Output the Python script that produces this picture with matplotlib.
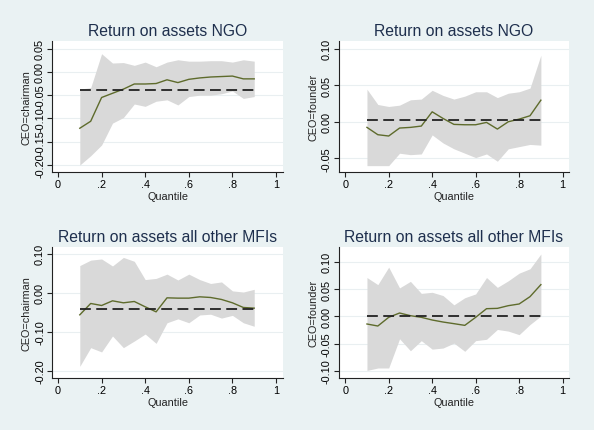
import matplotlib
matplotlib.use("Agg")
import matplotlib.pyplot as plt

W, H = 594, 431

quantiles = [0.1, 0.15, 0.2, 0.25, 0.3, 0.35, 0.4, 0.45, 0.5,
             0.55, 0.6, 0.65, 0.7, 0.75, 0.8, 0.85, 0.9]
xtick_vals = [0, 0.2, 0.4, 0.6, 0.8, 1]
xtick_labels = ["0", ".2", ".4", ".6", ".8", "1"]

# NGO, CEO=chairman
ngo_chair = [-0.121, -0.106, -0.055, -0.046, -0.037, -0.026, -0.026, -0.025, -0.017,
             -0.023, -0.016, -0.013, -0.011, -0.010, -0.009, -0.015, -0.015]
ngo_chair_hi = [-0.037, -0.034, 0.039, 0.019, 0.020, 0.014, 0.021, 0.011, 0.021,
                0.026, 0.023, 0.023, 0.024, 0.024, 0.021, 0.026, 0.023]
ngo_chair_lo = [-0.200, -0.180, -0.157, -0.110, -0.098, -0.069, -0.074, -0.063, -0.060,
                -0.071, -0.053, -0.050, -0.050, -0.047, -0.041, -0.057, -0.053]
ngo_chair_ols = -0.0386

# NGO, CEO=founder
ngo_found = [-0.0077, -0.0177, -0.0195, -0.0086, -0.0077, -0.0059, 0.0136, 0.0045, -0.0036,
             -0.0041, -0.0041, -0.0009, -0.010, 0.000, 0.0036, 0.0082, 0.0295]
ngo_found_hi = [0.0445, 0.0236, 0.0209, 0.0227, 0.030, 0.031, 0.043, 0.036, 0.031,
                0.035, 0.041, 0.041, 0.033, 0.039, 0.041, 0.046, 0.091]
ngo_found_lo = [-0.060, -0.060, -0.060, -0.043, -0.045, -0.044, -0.018, -0.029, -0.037,
                -0.043, -0.049, -0.044, -0.054, -0.037, -0.034, -0.031, -0.032]
ngo_found_ols = 0.0018

# all other MFIs, CEO=chairman
oth_chair = [-0.0566, -0.0274, -0.0326, -0.0206, -0.0257, -0.0223, -0.036, -0.0489, -0.0129,
             -0.0137, -0.0137, -0.0103, -0.012, -0.0171, -0.0257, -0.0377, -0.0394]
oth_chair_hi = [0.070, 0.084, 0.087, 0.069, 0.091, 0.081, 0.034, 0.037, 0.048,
                0.033, 0.048, 0.034, 0.024, 0.028, 0.005, 0.002, 0.009]
oth_chair_lo = [-0.189, -0.141, -0.152, -0.111, -0.141, -0.124, -0.106, -0.130, -0.077,
                -0.067, -0.077, -0.057, -0.055, -0.065, -0.058, -0.077, -0.086]
oth_chair_ols = -0.0411

# all other MFIs, CEO=founder
oth_found = [-0.014, -0.0177, -0.0018, 0.0061, 0.0012, -0.0018, -0.0067, -0.0104, -0.0134,
             -0.0165, -0.0018, 0.014, 0.0146, 0.0195, 0.0226, 0.036, 0.058]
oth_found_hi = [0.071, 0.058, 0.090, 0.052, 0.064, 0.042, 0.044, 0.038, 0.021,
                0.034, 0.041, 0.071, 0.053, 0.065, 0.079, 0.087, 0.114]
oth_found_lo = [-0.099, -0.0945, -0.0945, -0.041, -0.063, -0.0445, -0.060, -0.058, -0.049,
                -0.064, -0.0445, -0.042, -0.024, -0.027, -0.0335, -0.015, 0.0006]
oth_found_ols = 0.0006

titles = ["Return on assets NGO", "Return on assets NGO",
          "Return on assets all other MFIs", "Return on assets all other MFIs"]
ylabels = ["CEO=chairman", "CEO=founder", "CEO=chairman", "CEO=founder"]

BG = "#eaf2f3"
TITLE_C = "#1e2f4d"
LINE_C = "#5e6b2c"
BAND_C = "#d9d9d9"

plt.rcParams["font.family"] = ["Liberation Sans", "DejaVu Sans"]

fig = plt.figure(figsize=(W / 100, H / 100), dpi=100, facecolor=BG)


def add_panel(left, right, top, bottom, xlim, ylim, yticks, yticklabels,
              est, hi, lo, ols, title, ylabel):
    ax = fig.add_axes([left / W, 1 - bottom / H, (right - left) / W, (bottom - top) / H])
    ax.set_facecolor("white")
    ax.fill_between(quantiles, lo, hi, color=BAND_C, linewidth=0)
    ax.plot(quantiles, est, color=LINE_C, linewidth=1.0)
    ax.plot([quantiles[0], quantiles[-1]], [ols, ols], color="#222222",
            linewidth=1.3, dashes=(6, 3))
    ax.set_xlim(*xlim)
    ax.set_ylim(*ylim)
    ax.set_xticks(xtick_vals)
    ax.set_xticklabels(xtick_labels)
    ax.set_yticks(yticks)
    ax.set_yticklabels(yticklabels, rotation=90, va="center")
    for yv in yticks:
        ax.axhline(yv, color="#e9eff1", linewidth=0.8, zorder=0)
    for s in ["top", "right"]:
        ax.spines[s].set_visible(False)
    for s in ["left", "bottom"]:
        ax.spines[s].set_color("#222222")
        ax.spines[s].set_linewidth(0.8)
    ax.tick_params(axis="both", length=3.5, width=0.8, color="#222222",
                   labelsize=7.8, pad=1.5)
    cx = (left + right) / 2
    fig.text(cx / W, 1 - (top - 10.5) / H, title, ha="center", va="center",
             fontsize=11.3, color=TITLE_C)
    fig.text(cx / W, 1 - (bottom + 24) / H, "Quantile", ha="center", va="center",
             fontsize=7.8, color="#222222")
    fig.text((left - 25.5) / W, 1 - ((top + bottom) / 2) / H, ylabel, ha="center",
             va="center", rotation=90, fontsize=7.8, color="#222222")
    return ax


add_panel(52, 283, 42, 173.3, (-0.0275, 1.032), (-0.2156, 0.0663),
          [-0.20, -0.15, -0.10, -0.05, 0.00, 0.05],
          ["-0.20", "-0.15", "-0.10", "-0.05", "0.00", "0.05"],
          ngo_chair, ngo_chair_hi, ngo_chair_lo, ngo_chair_ols, titles[0], ylabels[0])

add_panel(338.7, 568.7, 42, 173.3, (-0.030, 1.028), (-0.0691, 0.1104),
          [-0.05, 0.00, 0.05, 0.10],
          ["-0.05", "0.00", "0.05", "0.10"],
          ngo_found, ngo_found_hi, ngo_found_lo, ngo_found_ols, titles[1], ylabels[1])

add_panel(52, 283, 248.3, 379, (-0.0275, 1.032), (-0.219, 0.117),
          [-0.20, -0.10, 0.00, 0.10],
          ["-0.20", "-0.10", "0.00", "0.10"],
          oth_chair, oth_chair_hi, oth_chair_lo, oth_chair_ols, titles[2], ylabels[2])

add_panel(338.7, 568.7, 248.3, 379, (-0.030, 1.028), (-0.1128, 0.1263),
          [-0.10, -0.05, 0.00, 0.05, 0.10],
          ["-0.10", "-0.05", "0.00", "0.05", "0.10"],
          oth_found, oth_found_hi, oth_found_lo, oth_found_ols, titles[3], ylabels[3])

fig.savefig("out.png", dpi=100, facecolor=BG)
